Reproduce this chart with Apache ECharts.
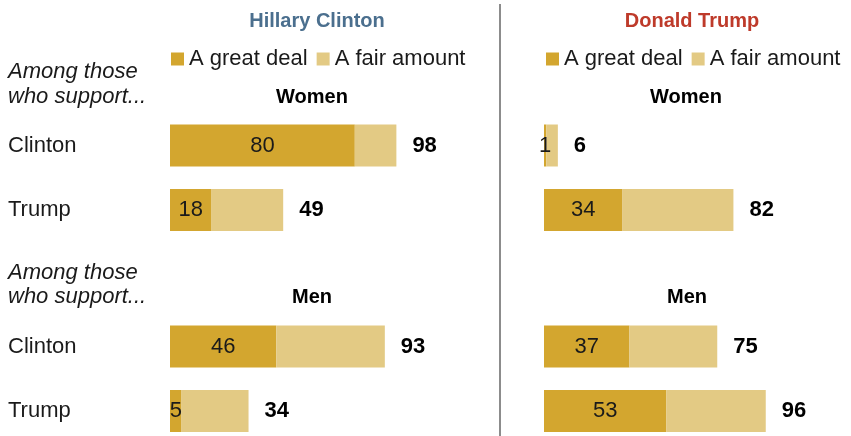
<!DOCTYPE html>
<html>
<head>
<meta charset="utf-8">
<script src="https://cdn.jsdelivr.net/npm/echarts@6/dist/echarts.min.js"></script>
<style>
  html, body { margin: 0; padding: 0; background: #fff; }
  #chart { width: 851px; height: 436px; }
</style>
</head>
<body>
<div id="chart"></div>
<script>
// Row categories (same in every block)
const categories = ['Clinton', 'Trump'];

// Hillary Clinton panel: share saying "a great deal" and the combined total
const clintonWomenGreat = [80, 18];
const clintonWomenTotal = [98, 49];
const clintonMenGreat = [46, 5];
const clintonMenTotal = [93, 34];

// Donald Trump panel
const trumpWomenGreat = [1, 34];
const trumpWomenTotal = [6, 82];
const trumpMenGreat = [37, 53];
const trumpMenTotal = [75, 96];

const seriesNames = ['A great deal', 'A fair amount'];
const panelTitles = ['Hillary Clinton', 'Donald Trump'];
const groupTitles = ['Women', 'Men'];

const DARK = '#D3A62F';
const LIGHT = '#E3CA84';
const FONT = '"Liberation Sans", Arial, sans-serif';

const blocks = [
  { great: clintonWomenGreat, total: clintonWomenTotal },
  { great: trumpWomenGreat, total: trumpWomenTotal },
  { great: clintonMenGreat, total: clintonMenTotal },
  { great: trumpMenGreat, total: trumpMenTotal }
];

// Each block is a grid with two category bands of 64.5px
const gridPos = [
  { left: 170, top: 113.25 },
  { left: 544, top: 113.25 },
  { left: 170, top: 314.25 },
  { left: 544, top: 314.25 }
];

const grids = gridPos.map(p => ({
  left: p.left, top: p.top, width: 231, height: 129,
  outerBoundsMode: 'none', containLabel: false
}));

const xAxes = gridPos.map((p, i) => ({
  type: 'value', gridIndex: i, min: 0, max: 100, show: false
}));

const yAxes = gridPos.map((p, i) => ({
  type: 'category', gridIndex: i, data: categories, inverse: true,
  axisLine: { show: false }, axisTick: { show: false }, splitLine: { show: false },
  axisLabel: {
    show: i % 2 === 0, align: 'left', margin: 162,
    fontFamily: FONT, fontSize: 22, color: '#1a1a1a'
  }
}));

const series = [];
blocks.forEach((b, i) => {
  const fair = b.total.map((t, k) => t - b.great[k]);
  series.push({
    name: seriesNames[0], type: 'bar', stack: 's' + i,
    xAxisIndex: i, yAxisIndex: i, barWidth: 42,
    data: b.great, itemStyle: { color: DARK },
    label: {
      show: true, position: 'inside', color: '#1a1a1a',
      fontFamily: FONT, fontSize: 22
    },
    emphasis: { disabled: true }, animation: false
  });
  series.push({
    name: seriesNames[1], type: 'bar', stack: 's' + i,
    xAxisIndex: i, yAxisIndex: i, barWidth: 42,
    data: fair, itemStyle: { color: LIGHT },
    label: {
      show: true, position: 'right', distance: 16, color: '#000',
      fontFamily: FONT, fontSize: 22, fontWeight: 'bold',
      formatter: p => String(b.total[p.dataIndex])
    },
    emphasis: { disabled: true }, animation: false
  });
});

const legendBase = {
  data: seriesNames, icon: 'rect', itemWidth: 13, itemHeight: 13, itemGap: 9,
  top: 43, selectedMode: false,
  textStyle: { fontFamily: FONT, fontSize: 22, color: '#1a1a1a', padding: [0, 0, 0, 0] }
};

function txt(x, y, text, opts) {
  return {
    type: 'text', x: x, y: y, silent: true,
    style: Object.assign({
      text: text, fontFamily: FONT, fontSize: 22, fill: '#1a1a1a',
      align: 'left', verticalAlign: 'middle'
    }, opts || {})
  };
}

const option = {
  backgroundColor: '#fff',
  animation: false,
  title: [
    { text: panelTitles[0], left: 312, top: 6, textAlign: 'center',
      textStyle: { fontFamily: FONT, fontSize: 20, fontWeight: 'bold', color: '#4B6F8E' } },
    { text: panelTitles[1], left: 687, top: 6, textAlign: 'center',
      textStyle: { fontFamily: FONT, fontSize: 20, fontWeight: 'bold', color: '#BE3A2A' } }
  ],
  legend: [
    Object.assign({}, legendBase, { left: 166 }),
    Object.assign({}, legendBase, { left: 541 })
  ],
  grid: grids,
  xAxis: xAxes,
  yAxis: yAxes,
  series: series,
  graphic: [
    txt(8, 72, 'Among those', { fontStyle: 'italic' }),
    txt(8, 97, 'who support...', { fontStyle: 'italic' }),
    txt(8, 273, 'Among those', { fontStyle: 'italic' }),
    txt(8, 297, 'who support...', { fontStyle: 'italic' }),
    txt(312, 97, groupTitles[0], { align: 'center', fontWeight: 'bold', fontSize: 20, fill: '#000' }),
    txt(686, 97, groupTitles[0], { align: 'center', fontWeight: 'bold', fontSize: 20, fill: '#000' }),
    txt(312, 297, groupTitles[1], { align: 'center', fontWeight: 'bold', fontSize: 20, fill: '#000' }),
    txt(687, 297, groupTitles[1], { align: 'center', fontWeight: 'bold', fontSize: 20, fill: '#000' }),
    {
      type: 'line', silent: true,
      shape: { x1: 500, y1: 4, x2: 500, y2: 436 },
      style: { stroke: '#8C8C8C', lineWidth: 2 }
    }
  ]
};

const chart = echarts.init(document.getElementById('chart'), null, { renderer: 'canvas' });
chart.setOption(option);
</script>
</body>
</html>
